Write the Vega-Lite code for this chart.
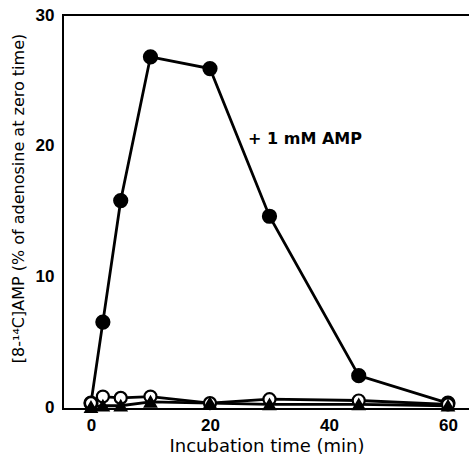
{
  "$schema": "https://vega.github.io/schema/vega-lite/v6.json",
  "width": 407,
  "height": 394,
  "autosize": {"type": "none"},
  "padding": {"left": 63, "top": 15, "right": 0, "bottom": 49},
  "config": {
    "view": {"stroke": "black", "strokeWidth": 2},
    "font": "DejaVu Sans",
    "axis": {"grid": false, "domain": false, "ticks": false, "labelFont": "Liberation Sans", "titleFont": "DejaVu Sans", "labelColor": "black", "titleColor": "black"}
  },
  "data": {
    "values": [
      {"t": 0, "v": 0.3, "s": "a"}, {"t": 2, "v": 6.5, "s": "a"}, {"t": 5, "v": 15.8, "s": "a"}, {"t": 10, "v": 26.8, "s": "a"}, {"t": 20, "v": 25.9, "s": "a"}, {"t": 30, "v": 14.6, "s": "a"}, {"t": 45, "v": 2.4, "s": "a"}, {"t": 60, "v": 0.3, "s": "a"},
      {"t": 0, "v": 0.0, "s": "c"}, {"t": 2, "v": 0.1, "s": "c"}, {"t": 5, "v": 0.1, "s": "c"}, {"t": 10, "v": 0.4, "s": "c"}, {"t": 20, "v": 0.3, "s": "c"}, {"t": 30, "v": 0.2, "s": "c"}, {"t": 45, "v": 0.2, "s": "c"}, {"t": 60, "v": 0.1, "s": "c"},
      {"t": 0, "v": 0.3, "s": "b"}, {"t": 2, "v": 0.8, "s": "b"}, {"t": 5, "v": 0.7, "s": "b"}, {"t": 10, "v": 0.8, "s": "b"}, {"t": 20, "v": 0.3, "s": "b"}, {"t": 30, "v": 0.6, "s": "b"}, {"t": 45, "v": 0.5, "s": "b"}, {"t": 60, "v": 0.2, "s": "b"}
    ]
  },
  "layer": [
    {
      "mark": {"type": "line", "color": "black", "strokeWidth": 2.8, "clip": false},
      "encoding": {
        "x": {"field": "t", "type": "quantitative", "scale": {"domain": [-4.7, 63.7], "nice": false, "zero": false},
          "axis": {"values": [0, 20, 40, 60], "title": "Incubation time (min)", "labelFontSize": 17, "labelFontWeight": "bold", "labelPadding": 8, "titleFontSize": 18, "titleFontWeight": "normal", "titlePadding": 4}},
        "y": {"field": "v", "type": "quantitative", "scale": {"domain": [-0.15, 30], "nice": false, "zero": false},
          "axis": {"values": [0, 10, 20, 30], "title": "[8-¹⁴C]AMP (% of adenosine at zero time)", "labelFontSize": 17, "labelFontWeight": "bold", "labelPadding": 9, "titleFontSize": 16, "titleFontWeight": "normal", "titlePadding": 9, "titleY": 183}},
        "detail": {"field": "s"}
      }
    },
    {
      "mark": {"type": "point", "filled": true, "stroke": "black", "strokeWidth": 2.2, "opacity": 1, "clip": false},
      "encoding": {
        "x": {"field": "t", "type": "quantitative"},
        "y": {"field": "v", "type": "quantitative"},
        "shape": {"field": "s", "type": "nominal", "scale": {"domain": ["a", "b", "c"], "range": ["circle", "circle", "triangle-up"]}, "legend": null},
        "fill": {"field": "s", "type": "nominal", "scale": {"domain": ["a", "b", "c"], "range": ["black", "white", "black"]}, "legend": null},
        "size": {"field": "s", "type": "nominal", "scale": {"domain": ["a", "b", "c"], "range": [170, 120, 110]}, "legend": null},
        "order": {"field": "s"}
      }
    },
    {
      "data": {"values": [{"t": 26.4, "v": 20.5, "label": "+ 1 mM AMP"}]},
      "mark": {"type": "text", "align": "left", "baseline": "middle", "fontSize": 16, "fontWeight": "bold", "font": "DejaVu Sans"},
      "encoding": {
        "x": {"field": "t", "type": "quantitative"},
        "y": {"field": "v", "type": "quantitative"},
        "text": {"field": "label"}
      }
    }
  ]
}
